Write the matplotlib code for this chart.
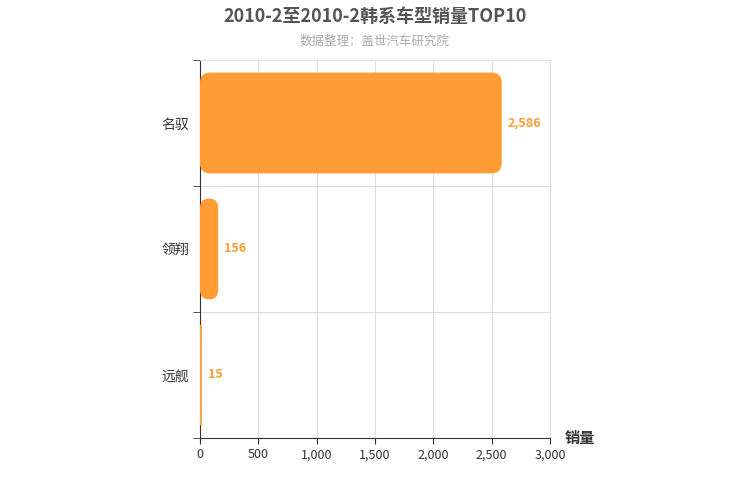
import matplotlib
matplotlib.use("Agg")
import matplotlib.pyplot as plt
from matplotlib.patches import FancyBboxPatch

plt.rcParams['font.family'] = ['Noto Sans CJK SC', 'DejaVu Sans']

categories = ['名驭', '领翔', '远舰']
values = [2586, 156, 15]
xticks = [0, 500, 1000, 1500, 2000, 2500, 3000]
xticklabels = ['0', '500', '1,000', '1,500', '2,000', '2,500', '3,000']
color = '#FF9C33'

fig = plt.figure(figsize=(7.5, 5), dpi=100)
ax = fig.add_axes([200/750, 1-438/500, 350/750, 378/500])
n = len(categories)
ax.set_xlim(0, 3000)
ax.set_ylim(n - 0.5, -0.5)

xu = 3000 / 350
yu = n / 378
h = 0.8
for i, v in enumerate(values):
    r = min(10 * xu, v / 2)
    p = FancyBboxPatch((0, i - h/2), v, h,
                       boxstyle=f"round,pad=0,rounding_size={r}",
                       mutation_aspect=yu / xu, fc=color, ec='none', zorder=3)
    ax.add_patch(p)
    ax.text(v + 6 * xu, i, f"{v:,}", va='center', ha='left', color=color,
            fontsize=9, fontweight='bold', zorder=4)

ax.set_xticks(xticks)
ax.set_xticklabels(xticklabels, fontsize=9, color='#333333')
ax.set_yticks(range(n))
ax.set_yticklabels(categories, fontsize=10, color='#333333')
ax.tick_params(axis='y', length=0, pad=8)
ax.set_yticks([i + 0.5 for i in range(-1, n)], minor=True)
ax.tick_params(axis='y', which='minor', length=5, color='#333333')
ax.tick_params(axis='x', length=4, color='#333333')
ax.grid(axis='x', color='#dddddd', lw=0.8, zorder=0)
for b in [0.5, 1.5]:
    ax.axhline(b, color='#dddddd', lw=0.8, zorder=0)
for s in ['top', 'right']:
    ax.spines[s].set_color('#dddddd')
ax.spines['left'].set_color('#333333')
ax.spines['bottom'].set_color('#333333')

fig.text(0.5, 0.967, '2010-2至2010-2韩系车型销量TOP10', ha='center', va='center',
         fontsize=13, fontweight='bold', color='#555555')
fig.text(0.5, 0.918, '数据整理：盖世汽车研究院', ha='center', va='center',
         fontsize=9, color='#aaaaaa')
fig.text(580/750, 1-438/500, '销量', ha='center', va='center', fontsize=11,
         fontweight='bold', color='#333333')

fig.savefig('out.png', dpi=100)
